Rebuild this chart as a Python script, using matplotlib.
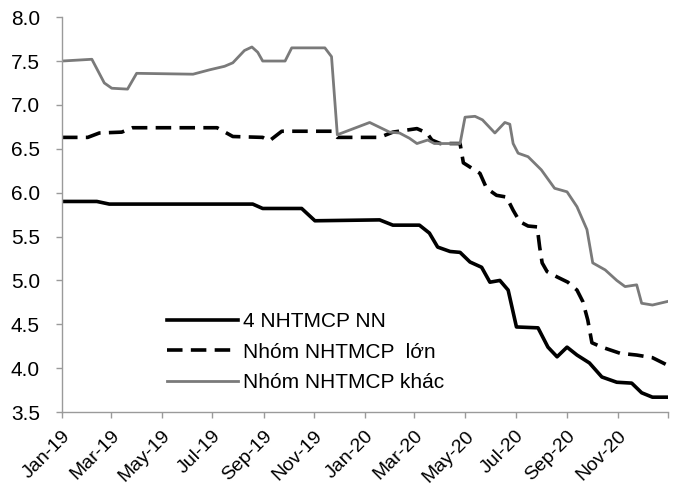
import matplotlib
matplotlib.use("Agg")
import matplotlib.pyplot as plt
import pandas as pd

# ---- data ----
nn_dates = ["2019-01-01", "2019-02-12", "2019-02-27", "2019-08-19", "2019-08-31", "2019-10-17",
            "2019-11-02", "2020-01-19", "2020-02-04", "2020-03-07", "2020-03-19", "2020-03-29",
            "2020-04-13", "2020-04-25", "2020-05-07", "2020-05-21", "2020-05-31", "2020-06-12",
            "2020-06-22", "2020-07-02", "2020-07-28", "2020-08-09", "2020-08-20", "2020-09-01",
            "2020-09-13", "2020-09-28", "2020-10-13", "2020-10-31", "2020-11-18", "2020-11-30",
            "2020-12-13", "2020-12-31"]
nn_values = [5.90, 5.90, 5.87, 5.87, 5.82, 5.82,
             5.68, 5.69, 5.63, 5.63, 5.54, 5.38,
             5.33, 5.32, 5.21, 5.15, 4.98, 5.00,
             4.89, 4.47, 4.46, 4.24, 4.13, 4.24,
             4.15, 4.06, 3.90, 3.84, 3.83, 3.72,
             3.67, 3.67]

lon_dates = ["2019-01-01", "2019-02-01", "2019-02-15", "2019-03-14", "2019-03-27", "2019-07-07",
             "2019-07-26", "2019-08-31", "2019-09-08", "2019-09-23", "2019-11-23", "2019-11-29",
             "2020-01-19", "2020-02-04", "2020-03-04", "2020-03-16", "2020-03-22", "2020-04-01",
             "2020-04-25", "2020-04-29", "2020-05-19", "2020-05-27", "2020-06-08", "2020-06-20",
             "2020-06-28", "2020-07-06", "2020-07-16", "2020-07-27", "2020-07-30", "2020-08-02",
             "2020-08-08", "2020-08-20", "2020-09-02", "2020-09-13", "2020-09-20", "2020-09-26",
             "2020-10-01", "2020-10-13", "2020-11-04", "2020-11-24", "2020-12-13", "2020-12-30"]
lon_values = [6.63, 6.63, 6.68, 6.69, 6.74, 6.74,
              6.64, 6.63, 6.59, 6.70, 6.70, 6.63,
              6.63, 6.69, 6.73, 6.68, 6.60, 6.56,
              6.56, 6.34, 6.22, 6.05, 5.97, 5.95,
              5.80, 5.67, 5.62, 5.61, 5.38, 5.20,
              5.10, 5.04, 4.98, 4.89, 4.76, 4.55,
              4.29, 4.24, 4.17, 4.15, 4.12, 4.04]

khac_dates = ["2019-01-01", "2019-02-06", "2019-02-21", "2019-03-02", "2019-03-21", "2019-04-01",
              "2019-06-08", "2019-06-28", "2019-07-16", "2019-07-26", "2019-08-09", "2019-08-18",
              "2019-08-25", "2019-08-31", "2019-09-27", "2019-10-05", "2019-11-14", "2019-11-22",
              "2019-11-29", "2020-01-07", "2020-01-31", "2020-02-12", "2020-02-24", "2020-03-04",
              "2020-03-17", "2020-03-25", "2020-04-25", "2020-05-01", "2020-05-13", "2020-05-22",
              "2020-06-06", "2020-06-18", "2020-06-24", "2020-06-28", "2020-07-04", "2020-07-16",
              "2020-08-01", "2020-08-17", "2020-09-01", "2020-09-13", "2020-09-25", "2020-10-02",
              "2020-10-17", "2020-10-31", "2020-11-10", "2020-11-24", "2020-11-30", "2020-12-13",
              "2020-12-31"]
khac_values = [7.50, 7.52, 7.25, 7.19, 7.18, 7.36,
               7.35, 7.40, 7.44, 7.48, 7.62, 7.66,
               7.60, 7.50, 7.50, 7.65, 7.65, 7.55,
               6.66, 6.80, 6.69, 6.68, 6.62, 6.56,
               6.60, 6.56, 6.56, 6.86, 6.87, 6.83,
               6.68, 6.80, 6.78, 6.56, 6.45, 6.41,
               6.26, 6.05, 6.01, 5.84, 5.58, 5.20,
               5.12, 5.00, 4.93, 4.95, 4.74, 4.72,
               4.76]

series_labels = ["4 NHTMCP NN", "Nhóm NHTMCP  lớn", "Nhóm NHTMCP khác"]
tick_dates = ["2019-01-01", "2019-03-01", "2019-05-01", "2019-07-01", "2019-09-01", "2019-11-01",
              "2020-01-01", "2020-03-01", "2020-05-01", "2020-07-01", "2020-09-01", "2020-11-01",
              "2021-01-01"]
tick_labels = ["Jan-19", "Mar-19", "May-19", "Jul-19", "Sep-19", "Nov-19",
               "Jan-20", "Mar-20", "May-20", "Jul-20", "Sep-20", "Nov-20", ""]
y_ticks = [3.5, 4.0, 4.5, 5.0, 5.5, 6.0, 6.5, 7.0, 7.5, 8.0]

# ---- plot ----
plt.rcParams['font.family'] = ['Liberation Sans', 'DejaVu Sans']
fig = plt.figure(figsize=(6.77, 4.90), dpi=100)
ax = fig.add_axes([0.0916, 0.159, 0.8954, 0.806])

ax.plot(pd.to_datetime(nn_dates), nn_values, color="black", lw=2.6,
        solid_joinstyle="round", label=series_labels[0])
ax.plot(pd.to_datetime(lon_dates), lon_values, color="black", lw=2.6,
        linestyle=(0, (4.3, 2.3)), label=series_labels[1])
ax.plot(pd.to_datetime(khac_dates), khac_values, color="#7a7a7a", lw=2.0,
        solid_joinstyle="round", label=series_labels[2])

ax.set_xlim(pd.Timestamp("2019-01-01"), pd.Timestamp("2021-01-01"))
ax.set_ylim(3.5, 8.0)
ax.set_yticks(y_ticks)
ax.set_yticklabels([f"{v:.1f}" for v in y_ticks], fontsize=15)
ax.set_xticks(pd.to_datetime(tick_dates))
ax.set_xticklabels(tick_labels, fontsize=14, rotation=45, ha="right", rotation_mode="anchor")

for s in ["top", "right"]:
    ax.spines[s].set_visible(False)
for s in ["left", "bottom"]:
    ax.spines[s].set_color("#9a9a9a")
    ax.spines[s].set_linewidth(1.0)
ax.tick_params(axis="y", length=4, width=1, color="#9a9a9a", pad=12)
ax.tick_params(axis="x", length=4, width=1, color="#9a9a9a", pad=7)

leg = ax.legend(loc="center left", bbox_to_anchor=(0.173, 0.152), frameon=False,
                fontsize=15, handlelength=3.4, handletextpad=0.25, labelspacing=0.55,
                borderpad=0, borderaxespad=0)

fig.savefig("out.png", dpi=100)
